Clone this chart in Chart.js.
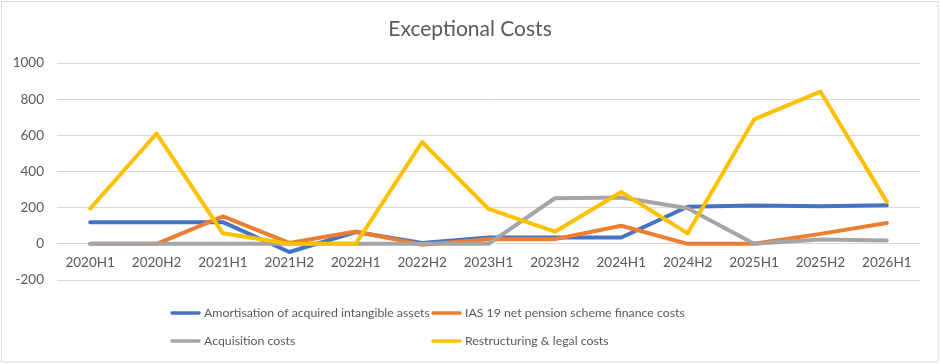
<!DOCTYPE html>
<html>
<head>
<meta charset="utf-8">
<script src="https://cdn.jsdelivr.net/npm/chart.js@4"></script>
<style>
html,body{margin:0;padding:0;background:#fff;}
#wrap{width:940px;height:364px;position:relative;}
</style>
</head>
<body>
<div id="wrap"><canvas id="c" width="940" height="364"></canvas></div>
<script>
const categories = ['2020H1','2020H2','2021H1','2021H2','2022H1','2022H2','2023H1','2023H2','2024H1','2024H2','2025H1','2025H2','2026H1'];
const amortisation = [120, 120, 120, -45, 65, 5, 35, 35, 35, 205, 212, 208, 213];
const pension = [0, 0, 152, 5, 68, -5, 25, 26, 100, 0, 0, 55, 115];
const acquisition = [0, 0, 0, 0, 0, 0, 0, 252, 256, 197, 0, 24, 18];
const restructuring = [195, 610, 58, 0, 0, 563, 193, 67, 287, 58, 688, 842, 232];
const yTicks = {min: -200, max: 1000, step: 200};
const seriesNames = ['Amortisation of acquired intangible assets','IAS 19 net pension scheme finance costs','Acquisition costs','Restructuring & legal costs'];
const seriesColors = ['#4472C4','#ED7D31','#A5A5A5','#FFC000'];
const titleText = 'Exceptional Costs';

const FONT = 'Lato, "Open Sans", sans-serif';

const frameAndLegend = {
  id: 'frameAndLegend',
  afterDraw(chart) {
    const ctx = chart.ctx;
    ctx.save();
    ctx.strokeStyle = '#d9d9d9';
    ctx.lineWidth = 1;
    ctx.strokeRect(1.5, 1.5, 936.5, 360.5);
    ctx.fillStyle = '#595959';
    ctx.font = '21px ' + FONT;
    ctx.textAlign = 'center';
    ctx.textBaseline = 'middle';
    ctx.fillText(titleText, 470, 29);
    ctx.font = '12.3px ' + FONT;
    ctx.textAlign = 'left';
    const colX = [172, 433];
    const rowY = [313, 341];
    chart.data.datasets.forEach((ds, i) => {
      const x = colX[i % 2], y = rowY[Math.floor(i / 2)];
      ctx.strokeStyle = ds.borderColor;
      ctx.lineWidth = 3.5;
      ctx.lineCap = 'round';
      ctx.beginPath();
      ctx.moveTo(x, y);
      ctx.lineTo(x + 27, y);
      ctx.stroke();
      ctx.fillStyle = '#595959';
      ctx.fillText(ds.label, x + 32, y);
    });
    ctx.restore();
  }
};

const data = {
  labels: categories,
  datasets: [amortisation, pension, acquisition, restructuring].map((vals, i) => ({
    label: seriesNames[i],
    data: vals,
    order: 3 - i,
    borderColor: seriesColors[i],
    backgroundColor: seriesColors[i],
    borderWidth: 4,
    pointRadius: 0,
    tension: 0,
    fill: false,
    borderCapStyle: 'round',
    borderJoinStyle: 'round'
  }))
};

new Chart(document.getElementById('c'), {
  type: 'line',
  data,
  plugins: [frameAndLegend],
  options: {
    responsive: false,
    animation: false,
    devicePixelRatio: 1,
    layout: {padding: {left: 0, right: 20, top: 63, bottom: 84}},
    plugins: {legend: {display: false}, title: {display: false}, tooltip: {enabled: false}},
    scales: {
      x: {
        position: {y: 0},
        offset: true,
        grid: {display: false, drawTicks: false},
        border: {display: false},
        ticks: {color: '#595959', font: {family: FONT, size: 13.5}, padding: 11, maxRotation: 0, autoSkip: false}
      },
      y: {
        min: yTicks.min,
        max: yTicks.max,
        afterFit(scale) { scale.width = 57; },
        grid: {color: '#d9d9d9', lineWidth: 1, drawTicks: false},
        border: {display: false},
        ticks: {stepSize: yTicks.step, color: '#595959', font: {family: FONT, size: 13.5}, padding: 13,
          callback: (v) => String(v)}
      }
    }
  }
});
</script>
</body>
</html>
